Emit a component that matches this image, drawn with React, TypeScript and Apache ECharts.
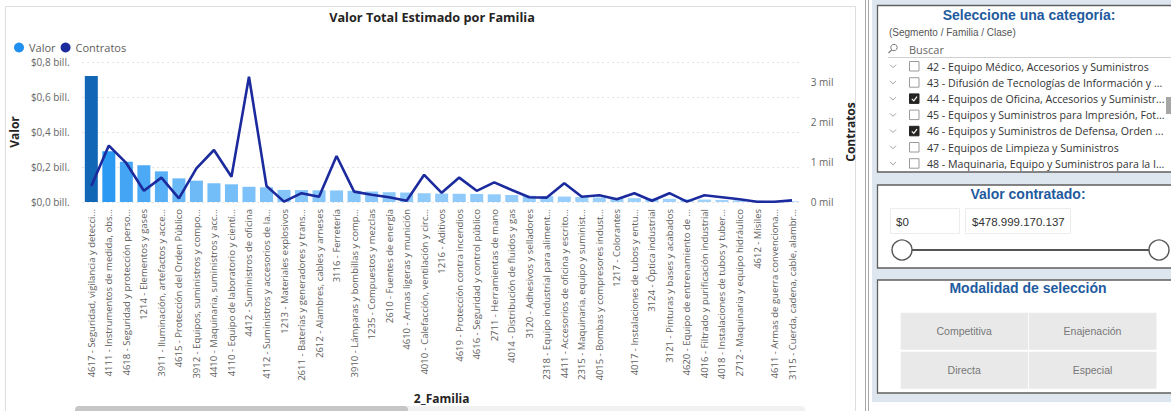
import React, { useEffect, useRef } from "react";
import * as echarts from "echarts";

const chartTitle = "Valor Total Estimado por Familia";

const categories = [
  "4617 - Seguridad, vigilancia y detecci...",
  "4111 - Instrumentos de medida, obs...",
  "4618 - Seguridad y protección perso...",
  "1214 - Elementos y gases",
  "3911 - Iluminación, artefactos y acce...",
  "4615 - Protección del Orden Público",
  "3912 - Equipos, suministros y compo...",
  "4410 - Maquinaria, suministros y acc...",
  "4110 - Equipo de laboratorio y cientí...",
  "4412 - Suministros de oficina",
  "4112 - Suministros y accesorios de la...",
  "1213 - Materiales explosivos",
  "2611 - Baterías y generadores y trans...",
  "2612 - Alambres, cables y arneses",
  "3116 - Ferretería",
  "3910 - Lámparas y bombillas y comp...",
  "1235 - Compuestos y mezclas",
  "2610 - Fuentes de energía",
  "4610 - Armas ligeras y munición",
  "4010 - Calefacción, ventilación y circ...",
  "1216 - Aditivos",
  "4619 - Protección contra incendios",
  "4616 - Seguridad y control público",
  "2711 - Herramientas de mano",
  "4014 - Distribución de fluidos y gas",
  "3120 - Adhesivos y selladores",
  "2318 - Equipo industrial para aliment...",
  "4411 - Accesorios de oficina y escrito...",
  "2315 - Maquinaria, equipo y suminist...",
  "4015 - Bombas y compresores indust...",
  "1217 - Colorantes",
  "4017 - Instalaciones de tubos y entu...",
  "3124 - Óptica industrial",
  "3121 - Pinturas y bases y acabados",
  "4620 - Equipo de entrenamiento de ...",
  "4016 - Filtrado y purificación industrial",
  "4018 - Instalaciones de tubos y tuber...",
  "2712 - Maquinaria y equipo hidráulico",
  "4612 - Misiles",
  "4611 - Armas de guerra convenciona...",
  "3115 - Cuerda, cadena, cable, alambr...",
];

// Valor (billones de pesos)
const valor = [
  0.72, 0.29, 0.23, 0.21, 0.175, 0.135, 0.122, 0.107, 0.101, 0.087, 0.084,
  0.069, 0.068, 0.067, 0.066, 0.064, 0.06, 0.056, 0.054, 0.05, 0.048, 0.047,
  0.046, 0.044, 0.04, 0.036, 0.033, 0.031, 0.028, 0.026, 0.024, 0.022, 0.02,
  0.018, 0.016, 0.014, 0.012, 0.01, 0.008, 0.006, 0.004,
];

// Número de contratos
const contratos = [
  400, 1410, 970, 280, 610, 90, 840, 1300, 630, 3130, 400, 10, 220, 130, 1150,
  260, 180, 120, 30, 680, 230, 610, 280, 490, 300, 120, 110, 470, 130, 170, 70,
  220, 30, 220, 10, 170, 120, 70, 5, 5, 40,
];

const slicerItems = [
  "42 - Equipo Médico, Accesorios y Suministros",
  "43 - Difusión de Tecnologías de Información y ...",
  "44 - Equipos de Oficina, Accesorios y Suministr...",
  "45 - Equipos y Suministros para Impresión, Fot...",
  "46 - Equipos y Suministros de Defensa, Orden ...",
  "47 - Equipos de Limpieza y Suministros",
  "48 - Maquinaria, Equipo y Suministros para la I...",
];
const slicerChecked = [false, false, true, false, true, false, false];

const rangeMin = "$0";
const rangeMax = "$478.999.170.137";
const modalidades = ["Competitiva", "Enajenación", "Directa", "Especial"];

const FONT = "'Segoe UI', 'Open Sans', sans-serif";
const ARIAL = "Arial, 'Liberation Sans', sans-serif";
const BLUE_T = "#1f5b9e";

const colorStops: [number, number[]][] = [
  [0, [166, 213, 252]],
  [0.1, [118, 190, 248]],
  [0.3, [40, 152, 242]],
  [0.72, [18, 102, 182]],
];
function barColor(v: number): string {
  for (let i = 1; i < colorStops.length; i++) {
    const [v1, c1] = colorStops[i];
    const [v0, c0] = colorStops[i - 1];
    if (v <= v1 || i === colorStops.length - 1) {
      const t = Math.max(0, Math.min(1, (v - v0) / (v1 - v0)));
      const c = c0.map((a, k) => Math.round(a + (c1[k] - a) * t));
      return `rgb(${c[0]},${c[1]},${c[2]})`;
    }
  }
  return "#2897f2";
}

function panelGraphics(): any[] {
  const g: any[] = [];
  // chart panel border
  g.push({ type: "rect", shape: { x: 5.5, y: 6.5, width: 850, height: 430 }, style: { fill: "none", stroke: "#dedede", lineWidth: 1 }, silent: true, z: -10 });
  // title
  g.push({ type: "text", x: 432, y: 17, style: { text: chartTitle, font: `bold 12.7px ${FONT}`, fill: "#252423", align: "center", verticalAlign: "middle" } });
  // scrollbar
  g.push({ type: "rect", shape: { x: 75, y: 406, width: 730, height: 10, r: 4 }, style: { fill: "#f1f1f1" } });
  g.push({ type: "rect", shape: { x: 75, y: 406, width: 333, height: 10, r: 4 }, style: { fill: "#c6c6c6" } });
  // separator
  g.push({ type: "line", shape: { x1: 865.5, y1: 0, x2: 865.5, y2: 411 }, style: { stroke: "#a8a8a8", lineWidth: 1 } });
  g.push({ type: "line", shape: { x1: 868.5, y1: 0, x2: 868.5, y2: 411 }, style: { stroke: "#a8a8a8", lineWidth: 1 } });
  // right background
  g.push({ type: "rect", shape: { x: 872, y: 0, width: 300, height: 402 }, style: { fill: "#dde6ef" } });
  const box = (y: number, h: number) => ({ type: "rect", shape: { x: 877.5, y, width: 310, height: h }, style: { fill: "#ffffff", stroke: "#5f5f5f", lineWidth: 1.3 } });
  g.push(box(5.5, 166.5));
  g.push(box(185, 83));
  g.push(box(280, 113));
  // box1
  g.push({ type: "text", x: 1029, y: 15, style: { text: "Seleccione una categoría:", font: `bold 14px ${ARIAL}`, fill: BLUE_T, align: "center", verticalAlign: "middle" } });
  g.push({ type: "text", x: 889, y: 32.5, style: { text: "(Segmento / Familia / Clase)", font: `10px ${ARIAL}`, fill: "#555555", align: "left", verticalAlign: "middle" } });
  g.push({ type: "circle", shape: { cx: 894, cy: 47.5, r: 3.2 }, style: { fill: "none", stroke: "#777", lineWidth: 1 } });
  g.push({ type: "line", shape: { x1: 891.7, y1: 49.8, x2: 888.5, y2: 53 }, style: { stroke: "#777", lineWidth: 1.2 } });
  g.push({ type: "text", x: 909, y: 49, style: { text: "Buscar", font: `11px ${FONT}`, fill: "#666666", align: "left", verticalAlign: "middle" } });
  g.push({ type: "line", shape: { x1: 888, y1: 57.5, x2: 1171, y2: 57.5 }, style: { stroke: "#d0d0d0", lineWidth: 1 } });
  slicerItems.forEach((t, i) => {
    const y = 66.5 + i * 16.2;
    g.push({ type: "polyline", shape: { points: [[890, y - 1.8], [893, y + 1.2], [896, y - 1.8]] }, style: { stroke: "#a0a0a0", lineWidth: 1, fill: "none" } });
    g.push({ type: "rect", shape: { x: 909.5, y: y - 5, width: 9.5, height: 9.5 }, style: { fill: slicerChecked[i] ? "#252423" : "#ffffff", stroke: slicerChecked[i] ? "#252423" : "#9a9a9a", lineWidth: 1 } });
    if (slicerChecked[i]) {
      g.push({ type: "polyline", shape: { points: [[911.8, y], [913.8, y + 2], [917, y - 2.2]] }, style: { stroke: "#ffffff", lineWidth: 1.2, fill: "none" } });
    }
    g.push({ type: "text", x: 927, y, style: { text: t, font: `10.6px ${FONT}`, fill: "#333333", align: "left", verticalAlign: "middle" } });
  });
  g.push({ type: "rect", shape: { x: 1166, y: 97, width: 5, height: 17 }, style: { fill: "#a6a6a6" } });
  // box2
  g.push({ type: "text", x: 1028, y: 193.5, style: { text: "Valor contratado:", font: `bold 14px ${ARIAL}`, fill: BLUE_T, align: "center", verticalAlign: "middle" } });
  g.push({ type: "rect", shape: { x: 890.5, y: 208.5, width: 69, height: 25 }, style: { fill: "#ffffff", stroke: "#ececec", lineWidth: 1 } });
  g.push({ type: "rect", shape: { x: 965.5, y: 208.5, width: 105, height: 25 }, style: { fill: "#ffffff", stroke: "#ececec", lineWidth: 1 } });
  g.push({ type: "text", x: 896, y: 222, style: { text: rangeMin, font: `11.5px ${ARIAL}`, fill: "#333333", align: "left", verticalAlign: "middle" } });
  g.push({ type: "text", x: 972, y: 222, style: { text: rangeMax, font: `11.5px ${ARIAL}`, fill: "#333333", align: "left", verticalAlign: "middle" } });
  g.push({ type: "line", shape: { x1: 902, y1: 250, x2: 1159, y2: 250 }, style: { stroke: "#555555", lineWidth: 2 } });
  g.push({ type: "circle", shape: { cx: 902, cy: 250, r: 10 }, style: { fill: "#ffffff", stroke: "#555555", lineWidth: 1.4 } });
  g.push({ type: "circle", shape: { cx: 1159, cy: 250, r: 10 }, style: { fill: "#ffffff", stroke: "#555555", lineWidth: 1.4 } });
  // box3
  g.push({ type: "text", x: 1028, y: 287.5, style: { text: "Modalidad de selección", font: `bold 14px ${ARIAL}`, fill: BLUE_T, align: "center", verticalAlign: "middle" } });
  const cells = [
    [900.7, 312.7], [1029, 312.7], [900.7, 351.7], [1029, 351.7],
  ];
  modalidades.forEach((m, i) => {
    const [x, y] = cells[i];
    g.push({ type: "rect", shape: { x, y, width: 127.5, height: 37 }, style: { fill: "#e9e9e9" } });
    g.push({ type: "text", x: x + 63.5, y: y + 18.5, style: { text: m, font: `10.5px ${ARIAL}`, fill: "#777777", align: "center", verticalAlign: "middle" } });
  });
  return g;
}

export default function App() {
  const ref = useRef<HTMLDivElement>(null);
  useEffect(() => {
    document.body.style.margin = "0";
    if (!ref.current) return;
    const chart = echarts.init(ref.current, undefined, { renderer: "svg" });
    chart.setOption({
      animation: false,
      backgroundColor: "#ffffff",
      textStyle: { fontFamily: FONT },
      legend: {
        left: 9,
        top: 37,
        itemWidth: 10,
        itemHeight: 10,
        itemGap: 5,
        icon: "circle",
        textStyle: { fontSize: 11, color: "#605e5c", fontFamily: FONT },
        data: [
          { name: "Valor", itemStyle: { color: "#1f8ff0" } },
          { name: "Contratos", itemStyle: { color: "#1b2a9c" } },
        ],
      },
      grid: { left: 79.2, right: 370.2, top: 62, bottom: 209, containLabel: false },
      xAxis: {
        type: "category",
        data: categories,
        name: "2_Familia",
        nameLocation: "middle",
        nameGap: 190,
        nameTextStyle: { fontSize: 12, fontWeight: "bold", color: "#252423", fontFamily: FONT },
        axisLine: { show: false },
        axisTick: { show: false },
        axisLabel: { interval: 0, rotate: 90, fontSize: 9.5, color: "#605e5c", margin: 7, fontFamily: FONT },
      },
      yAxis: [
        {
          type: "value",
          min: 0,
          max: 0.8,
          interval: 0.2,
          name: "Valor",
          nameLocation: "middle",
          nameGap: 50,
          nameTextStyle: { fontSize: 12, fontWeight: "bold", color: "#252423", fontFamily: FONT },
          axisLabel: {
            fontSize: 10,
            color: "#666666",
            margin: 13,
            formatter: (v: number) => `$${v.toFixed(1).replace(".", ",")} bill.`,
          },
          splitLine: { lineStyle: { type: [1, 4], color: "#c8c8c8", width: 1 } },
          axisLine: { show: false },
          axisTick: { show: false },
        },
        {
          type: "value",
          min: 0,
          max: 3500,
          interval: 1000,
          name: "Contratos",
          nameLocation: "middle",
          nameGap: 40,
          nameTextStyle: { fontSize: 12, fontWeight: "bold", color: "#252423", fontFamily: FONT },
          axisLabel: {
            fontSize: 10,
            color: "#666666",
            margin: 10,
            showMaxLabel: false,
            formatter: (v: number) => (v > 3000 ? "" : `${v / 1000} mil`),
          },
          splitLine: { show: false },
          axisLine: { show: false },
          axisTick: { show: false },
        },
      ],
      series: [
        {
          name: "Valor",
          type: "bar",
          data: valor,
          barWidth: 13,
          itemStyle: { color: (p: any) => barColor(p.value) },
          z: 2,
        },
        {
          name: "Contratos",
          type: "line",
          yAxisIndex: 1,
          data: contratos,
          symbol: "none",
          lineStyle: { color: "#1b2a9c", width: 2.6 },
          itemStyle: { color: "#1b2a9c" },
          z: 3,
        },
      ],
      graphic: { elements: panelGraphics() },
    });
    return () => chart.dispose();
  }, []);
  return <div ref={ref} style={{ position: "fixed", left: 0, top: 0, width: 1171, height: 411 }} />;
}
